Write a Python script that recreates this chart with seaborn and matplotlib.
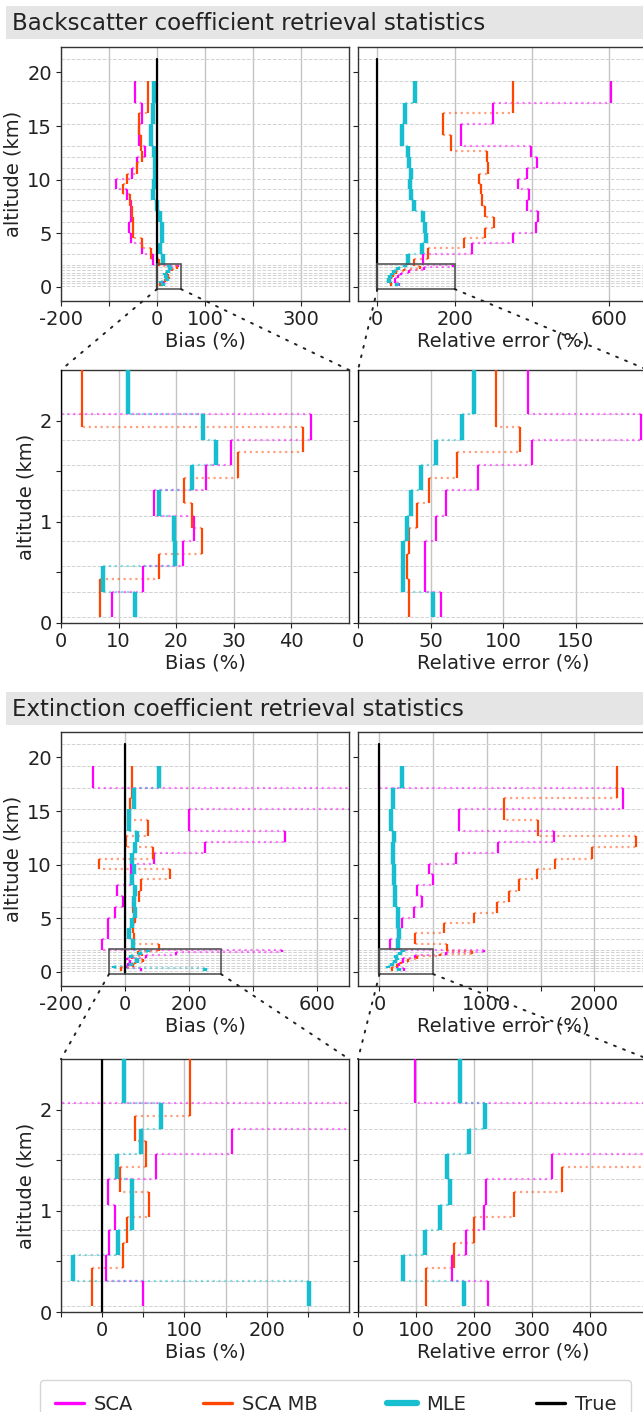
import numpy as np
import pandas as pd
import matplotlib
matplotlib.use("Agg")
import matplotlib.pyplot as plt
import seaborn as sns
from matplotlib.patches import Rectangle, ConnectionPatch
from matplotlib.lines import Line2D

# ---------------- data ----------------
# altitude bin edges (km)
sca_edges = [0.06, 0.31, 0.56, 0.81, 1.06, 1.31, 1.56, 1.81, 2.07, 3.07, 4.08, 5.03,
             6.02, 7.04, 8.10, 9.12, 10.06, 11.08, 12.15, 13.16, 15.16, 17.18, 19.20]
mb_edges = [0.06, 0.435, 0.685, 0.935, 1.185, 1.435, 1.685, 1.94, 2.57, 3.58, 4.56,
            5.52, 6.53, 7.58, 8.62, 9.59, 10.57, 11.62, 12.66, 14.16, 16.18, 19.20]
grid_alt = sca_edges + [21.24]
true_alt = [-0.25, 21.3]
true_val = [0.0, 0.0]

# Backscatter coefficient: bias (%)
bsc_bias_sca = [8.8, 14.3, 21.2, 23.1, 16.2, 25.1, 29.6, 43.4, -8, -32, -55, -58, -55,
                -55, -62, -85, -52, -42, -24, -38, -32, -46]
bsc_bias_mb = [6.8, 17.1, 24.5, 22.7, 21.3, 30.7, 42.0, 3.6, -12, -32, -51, -51, -52,
               -57, -70, -63, -41, -32, -34, -37, -19]
bsc_bias_mle = [12.9, 7.3, 19.8, 19.6, 17.0, 22.7, 26.9, 24.6, 11.6, 7, 10, 10, 7, -1,
                -8, -7, -4, -5, -7, -12, -8, -7]
# Backscatter coefficient: relative error (%)
bsc_re_sca = [57, 46, 46, 54, 61, 83, 120, 195, 117, 245, 350, 410, 415, 386, 391, 365,
              386, 413, 397, 217, 300, 604]
bsc_re_mb = [35, 33.5, 35, 41, 49, 68, 111.5, 95, 130, 223, 279, 303, 278, 271, 269, 263,
             287, 284, 191, 169, 350]
bsc_re_mle = [51.5, 30.7, 30.7, 34, 36.7, 43.4, 54, 71.6, 80, 115, 126, 123, 117, 95, 86,
              84, 86, 83, 79, 63, 71, 98]
# Extinction coefficient: bias (%)
ext_bias_sca = [50.2, 4.5, 8.9, 15.8, 6.9, 65.6, 158, 491, -71, -54, -54, -31, -5, -26,
                20, 18, 91, 249, 499, 200, 1100, -101]
ext_bias_mb = [-12.6, 25, 30.8, 57.5, 21.9, 53.4, 40, 107, 28, 26, 30, 24, 45, 50, 140,
               -80, 86, 3, 71, 15.6, 22]
ext_bias_mle = [251, -35.6, 19, 36, 36, 18.6, 47.4, 71.7, 26, 13.5, 22, 30, 28, 30, 22,
                28, 21, 31, 36, 13.5, 28, 106]
# Extinction coefficient: relative error (%)
ext_re_sca = [224, 162, 186, 218, 221, 335, 620, 975, 99, 170, 211, 323, 400, 351, 494,
              463, 714, 1099, 1621, 736, 2267, 0]
ext_re_mb = [117, 166, 199.4, 269, 351, 560, 860, 633, 329, 602, 882, 1093, 1202, 1295,
             1466, 1637, 1981, 2385, 1475, 1155, 2211]
ext_re_mle = [183, 78, 116, 142, 159, 154, 191, 218.5, 175, 183, 177, 168, 146, 143, 137,
              137, 130, 130, 137, 106, 130, 208]

series_labels = ["SCA", "SCA MB", "MLE", "True"]
series_colors = ["#ff00ff", "#ff4500", "#17becf", "black"]

# ---------------- style ----------------
sns.set_theme(style="ticks")
plt.rcParams['font.family'] = ['DejaVu Sans']
FS = 14

W, H = 643, 1412
fig = plt.figure(figsize=(W / 100, H / 100), dpi=100)


def rect(l, t, r, b):
    return [l / W, 1 - b / H, (r - l) / W, (b - t) / H]


def draw_series(ax, edges, vals, color, lw):
    e = np.asarray(edges, float)
    v = np.asarray(vals, float)
    ax.hlines(e[1:-1], v[:-1], v[1:], colors=color, lw=1.6, linestyles=':',
              alpha=0.5, zorder=2)
    ax.vlines(v, e[:-1], e[1:], colors=color, lw=lw, zorder=3)


def panel(ax, sca, mb, mle, xlim, ylim, xticks, xticklabels, yticks, yticklabels,
          xlabel, ylabel):
    draw_series(ax, sca_edges, sca, series_colors[0], 1.6)
    draw_series(ax, mb_edges, mb, series_colors[1], 1.6)
    draw_series(ax, sca_edges, mle, series_colors[2], 3.2)
    df_true = pd.DataFrame({"value": true_val, "altitude": true_alt})
    sns.lineplot(data=df_true, x="value", y="altitude", orient="y", sort=False,
                 estimator=None, color="black", lw=1.6, ax=ax, legend=False, zorder=4)
    ax.set_xticks(xticks)
    ax.set_xticklabels(xticklabels)
    ax.set_yticks(yticks)
    ax.set_yticklabels(yticklabels)
    ax.set_yticks(grid_alt, minor=True)
    ax.set_xlim(*xlim)
    ax.set_ylim(*ylim)
    ax.tick_params(which='minor', length=0)
    ax.tick_params(which='major', length=3.5, width=0.8, labelsize=FS, pad=3,
                   colors='#222222')
    ax.grid(which='minor', axis='y', ls='--', color='#d2d2d2', lw=0.7, zorder=0)
    ax.grid(which='major', axis='x', color='#c4c4c4', lw=1.0, zorder=0)
    ax.set_axisbelow(True)
    ax.set_xlabel(xlabel, fontsize=FS, color='#222222', labelpad=2)
    ax.set_ylabel(ylabel, fontsize=FS, color='#222222', labelpad=3)
    for s in ax.spines.values():
        s.set_visible(True)
        s.set_color('#333333')
        s.set_linewidth(1.0)


main_ylim = (-1.33, 22.38)
main_yt = [0, 5, 10, 15, 20]
ins_ylim = (0, 2.5)
ins_yt = [0, 0.5, 1, 1.5, 2]
ins_ytl = ['0', '', '1', '', '2']
rect_y0, rect_h = -0.22, 2.35

blocks = [
    dict(title="Backscatter coefficient retrieval statistics", band=6, top=47, itop=370,
         bias=(bsc_bias_sca, bsc_bias_mb, bsc_bias_mle),
         re=(bsc_re_sca, bsc_re_mb, bsc_re_mle),
         bxlim=(-200, 400), bxt=[-200, -100, 0, 100, 200, 300],
         bxtl=['-200', '', '0', '100', '', '300'],
         rxlim=(-50, 700), rxt=[0, 200, 400, 600], rxtl=['0', '200', '', '600'],
         ibxlim=(0, 50), ibxt=[0, 10, 20, 30, 40], ibxtl=['0', '10', '20', '30', '40'],
         irxlim=(0, 200), irxt=[0, 50, 100, 150], irxtl=['0', '50', '100', '150']),
    dict(title="Extinction coefficient retrieval statistics", band=692, top=732, itop=1059,
         bias=(ext_bias_sca, ext_bias_mb, ext_bias_mle),
         re=(ext_re_sca, ext_re_mb, ext_re_mle),
         bxlim=(-200, 700), bxt=[-200, 0, 200, 400, 600],
         bxtl=['-200', '0', '200', '', '600'],
         rxlim=(-200, 2500), rxt=[0, 500, 1000, 1500, 2000],
         rxtl=['0', '', '1000', '', '2000'],
         ibxlim=(-50, 300), ibxt=[-50, 0, 50, 100, 150, 200, 250],
         ibxtl=['', '0', '', '100', '', '200', ''],
         irxlim=(0, 500), irxt=[0, 100, 200, 300, 400],
         irxtl=['0', '100', '200', '300', '400']),
]

PH = 254
for b in blocks:
    # title band
    fig.patches.append(Rectangle((6 / W, 1 - (b['band'] + 33) / H), 1.0, 33 / H,
                                 transform=fig.transFigure, facecolor='#e5e5e5',
                                 edgecolor='none', zorder=0))
    fig.text(12 / W, 1 - (b['band'] + 17) / H, b['title'], fontsize=16.5,
             color='#222222', va='center', ha='left')

    t, it = b['top'], b['itop']
    axL = fig.add_axes(rect(61, t, 349, t + PH))
    axR = fig.add_axes(rect(358, t, 648, t + PH))
    inL = fig.add_axes(rect(61, it, 349, it + PH - 1))
    inR = fig.add_axes(rect(358, it, 648, it + PH - 1))

    panel(axL, *b['bias'], b['bxlim'], main_ylim, b['bxt'], b['bxtl'], main_yt,
          [str(v) for v in main_yt], 'Bias (%)', 'altitude (km)')
    panel(axR, *b['re'], b['rxlim'], main_ylim, b['rxt'], b['rxtl'], main_yt,
          ['' for v in main_yt], 'Relative error (%)', '')
    panel(inL, *b['bias'], b['ibxlim'], ins_ylim, b['ibxt'], b['ibxtl'], ins_yt,
          ins_ytl, 'Bias (%)', 'altitude (km)')
    panel(inR, *b['re'], b['irxlim'], ins_ylim, b['irxt'], b['irxtl'], ins_yt,
          ['' for v in ins_yt], 'Relative error (%)', '')

    for ax, ins in ((axL, inL), (axR, inR)):
        x0, x1 = ins.get_xlim()
        ax.add_patch(Rectangle((x0, rect_y0), x1 - x0, rect_h, fill=False,
                               edgecolor='#555555', lw=1.2, zorder=6))
        for xa, xb in ((x0, 0), (x1, 1)):
            con = ConnectionPatch(xyA=(xa, rect_y0), coordsA=ax.transData,
                                  xyB=(xb, 1), coordsB=ins.transAxes,
                                  color='#222222', lw=1.4, ls=(0, (1, 4)), zorder=7)
            fig.add_artist(con)

# legend
handles = [Line2D([], [], color=c, lw=(4.5 if l == "MLE" else 2.4))
           for l, c in zip(series_labels, series_colors)]
leg = fig.legend(handles, series_labels, loc='upper left', ncol=4, mode='expand',
                 bbox_to_anchor=(40 / W, 1 - 1380 / H, (631 - 40) / W, 0),
                 fontsize=14, frameon=True, fancybox=True, handlelength=1.5,
                 handletextpad=0.5, borderaxespad=0, borderpad=0.75)
leg.get_frame().set_edgecolor('#cccccc')
leg.get_frame().set_linewidth(1.0)

fig.savefig("out.png", dpi=100)
